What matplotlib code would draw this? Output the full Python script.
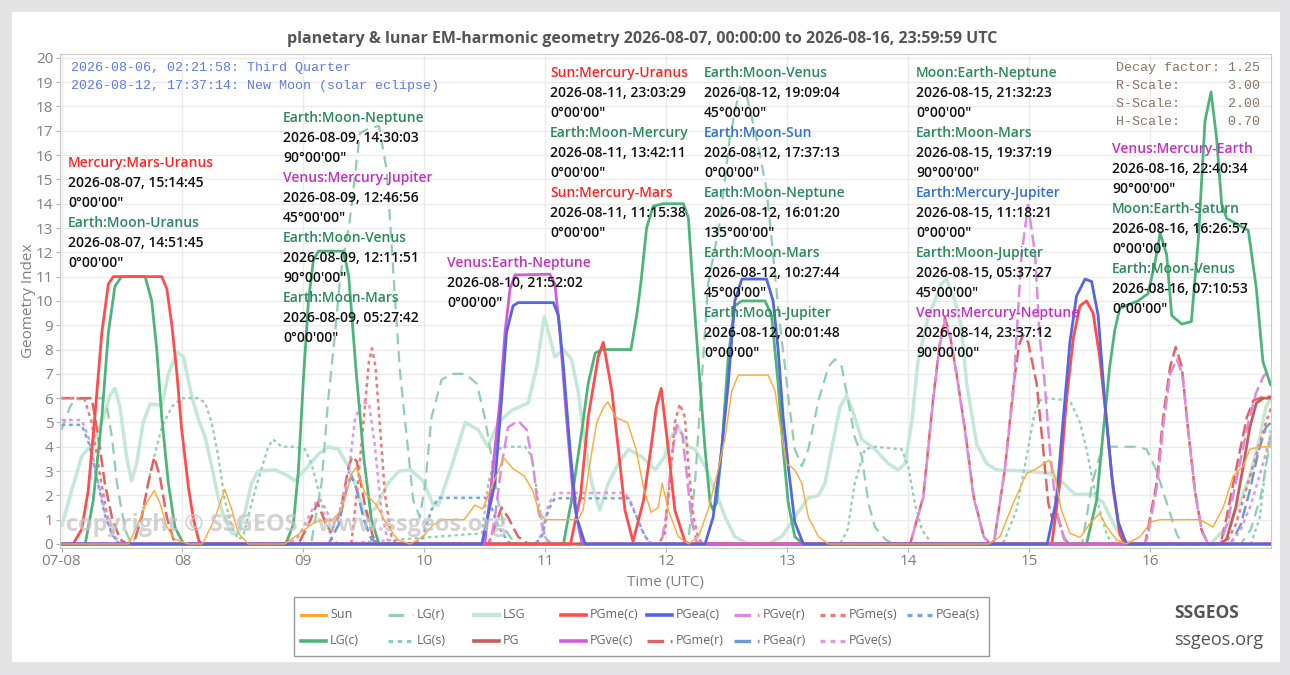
import matplotlib
matplotlib.use("Agg")
import matplotlib.pyplot as plt
from matplotlib.lines import Line2D
from matplotlib.patches import Rectangle

plt.rcParams['font.family'] = ['Open Sans', 'Noto Sans', 'DejaVu Sans']

W, H = 1290, 675

# ---- data: hours since 2026-08-07 00:00 UTC, geometry index ----
sun_h = [0, 13.3, 15.2, 16.9, 18.4, 19.5, 20.9, 22.5, 25.2, 28, 30.5, 32.4, 33.8, 35.1, 37.1, 44.3, 46.3, 48.3,
         50.3, 51.6, 53.6, 55.6, 57.6, 58.5, 60.2, 62.5, 64.5, 66.8, 69.2, 71.7, 73.8, 75.8, 79.9, 82, 83.6, 85,
         86.5, 87.7, 89.6, 91.8, 93.5, 94.8, 96, 102.5, 103.5, 104.6, 106.2, 107.5, 108.4, 110, 112.3, 114, 115.5,
         117, 118.4, 119.2, 120.4, 122.4, 124.4, 126.4, 128.3, 130.3, 131.7, 133, 134.3, 140.2, 141.6, 142.9, 143.9,
         145.5, 146.9, 148.2, 150.2, 152.2, 184, 186.2, 188.9, 191.5, 193.5, 194.8, 196, 197.1, 198.4, 200.1, 202.1,
         204.1, 206, 207.4, 209.4, 211.3, 214, 216.3, 218, 225.9, 228.5, 230.5, 232.5, 234.5, 235.8, 237.8, 240]
sun_v = [0, 0, 0.85, 1.7, 2.2, 1.7, 0.7, 0.2, 0, 0, 1.1, 2.25, 1.4, 0.44, 0, 0, 0.3, 0.6,
         0.9, 0.96, 0.96, 1.4, 2.9, 3.15, 2.1, 1.6, 0.8, 0.16, 0, 0.3, 0.8, 1.0, 1.0, 1.6, 1.45, 2.2,
         2.9, 3.55, 3.1, 2.8, 2.2, 1.3, 1.0, 1.0, 1.4, 3.0, 5.0, 5.6, 5.85, 5.2, 5.0, 3.9, 2.3,
         1.3, 1.5, 2.5, 1.4, 0.3, 0, 0.3, 1.4, 3.05, 4.4, 6.3, 6.95, 6.95, 6.3, 4.4, 3.3,
         3.05, 2.5, 1.1, 0.3, 0, 0, 0.3, 1.7, 2.9, 3.1, 3.3, 3.45, 2.8, 1.4, 0.44, 0.27,
         0.85, 1.26, 0.7, 0.16, 0, 0.3, 0.92, 1.0, 1.0, 0.7, 1.5, 2.8, 3.2, 3.9, 4.0, 4.0]

lgc_h = [0, 4.7, 6.3, 8.0, 9.3, 10.6, 11.9, 16.6, 17.9, 18.9, 19.9, 21.2, 22.5, 24.2, 44.5, 46, 47, 48, 49, 50, 51,
         56, 57, 58.5, 60, 61.5, 63, 99.6, 101.2, 103.2, 104.5, 105.9, 107.2, 113, 114.2, 115, 116.1, 117.4, 119.4,
         123.4, 124.4, 125, 125.7, 126.7, 127.7, 128.7, 129.3, 130, 131, 132.3, 133.6, 135, 139.6, 140.9, 142.2,
         143.2, 144.2, 145.5, 147.2, 203.4, 205.4, 206.7, 208, 209, 210, 213.6, 215.6, 217, 218, 219.3, 220.3,
         222.3, 224.2, 225.6, 226.9, 228.1, 229.2, 230.2, 231.2, 235.5, 237.1, 238.4, 240]
lgc_v = [0, 0, 1.8, 5.2, 8.7, 10.6, 11, 11, 10, 8.0, 5.2, 2.5, 0.7, 0, 0, 0.8, 3, 6.8, 10, 11.7, 12.05,
         12.05, 11, 7, 3.5, 1, 0, 0, 1.8, 4.6, 6.6, 7.85, 8.0, 8.0, 9.5, 10.8, 13, 13.9, 14,
         14, 13.4, 11.5, 9.4, 6.6, 3.9, 1.7, 1.4, 1.7, 3.9, 7.7, 9.8, 10.0, 10.0, 9.4, 6.6,
         3.9, 1.7, 0.3, 0, 0, 1.8, 4.6, 7.3, 8.8, 9.7, 10.0, 10.3, 11.6, 12.8, 11.9, 9.4,
         9.05, 9.15, 12.6, 17.4, 18.6, 16.7, 14, 13.4, 12.9, 10.5, 7.5, 6.5]

lgr_h = [0, 1.7, 2.7, 8, 9, 10, 11, 12, 12.9, 13.9, 48.5, 49.6, 51.6, 52.9, 54.3, 55.3, 57.2, 59.2, 61, 63, 64.5,
         65.2, 66.2, 67.2, 68.1, 69.8, 71.1, 72.2, 73.4, 75.4, 77.4, 80.1, 82.4, 84, 85.3, 86.7, 88, 90, 123,
         124.4, 125.7, 127, 128.3, 130.7, 132.6, 134.6, 135.9, 137.9, 139.9, 141.2, 142.5, 143.5, 144.3, 145.5,
         146.9, 148.2, 150.2, 152.2, 153.5, 154.8, 156.1, 157.4, 158.8, 160.1, 161.4, 163.4, 165, 202.5, 203.4,
         204.5, 206, 208, 213.3, 215.3, 217.3, 219.3, 221.3, 222.5, 234, 236, 238, 240]
lgr_v = [4.7, 5.65, 5.95, 6.0, 5.65, 4.4, 2.5, 1.3, 0.44, 0, 0, 0.1, 2.5, 5.9, 8.7, 11, 13.3, 16.9, 17.1, 17.2, 15.4,
         13.3, 10, 7, 5.2, 1.8, 1.1, 2.5, 5.2, 6.75, 7.0, 7.0, 6.6, 5.2, 3.6, 1.7, 0.6, 0, 0,
         0.2, 2.5, 6.6, 10.7, 13.3, 16.7, 18.8, 18.5, 16.7, 14.6, 11.9, 9.1, 7.4, 5.9, 3.9,
         3.2, 3.9, 5.9, 7.3, 7.6, 7.3, 5.9, 4.4, 3.6, 1.7, 0.7, 0.2, 0, 0, 1.1,
         2.5, 3.6, 4.0, 4.0, 3.9, 3.0, 1.7, 0.4, 0, 0, 0.6, 2.0, 4.4]

lgs_h = [0, 13.5, 14.3, 15.9, 17.9, 19.9, 21.9, 23.8, 27.2, 28.5, 29.8, 31.1, 32.4, 33.8, 35.1, 36, 38.4, 41, 42,
         43.7, 46.3, 48.3, 49.6, 51, 52.3, 53.6, 55, 83.4, 84.7, 86, 87.3, 92, 93.3, 94.6, 95.9, 97.2, 154.5, 156,
         157.4, 159.4, 161.4, 166.7, 168, 169.3, 170.7, 172.7, 186, 187, 189.5, 191.5, 193, 194.1, 195.5, 200.1,
         202.1, 203.4, 204.7, 206, 207.4, 208.5, 236, 237.8, 239, 240]
lgs_v = [0, 0, 0.1, 1.1, 3.2, 4.8, 5.65, 6.0, 6.0, 5.8, 5.0, 3.6, 1.8, 0.7, 0.2, 0.3, 2.2, 4.0, 4.3,
         4.0, 4.0, 3.9, 3.3, 2.2, 1.1, 0.2, 0, 0.44, 2.5, 3.6, 4.0, 4.0, 3.6, 1.8, 0.3, 0, 0, 0.6,
         2.5, 3.9, 4.0, 3.9, 3.2, 1.7, 0.6, 0, 0, 0.1, 1.4, 3.6, 5.3, 5.9, 6.0, 5.9,
         5.0, 3.9, 2.5, 1.4, 0.4, 0, 0, 1.1, 3.3, 4.8]

lsg_h = [0, 2, 4, 6, 8, 9.6, 10.6, 11.6, 12.9, 13.9, 14.9, 16.2, 17.6, 19.9, 21.2, 22.9, 24.2, 25.8, 27.2, 28.5,
         29.8, 31.1, 32.4, 33.8, 35.1, 36.4, 37.7, 39, 42.4, 45, 46.3, 48.3, 51, 52.9, 54.9, 56.9, 58.2, 60.2,
         62.2, 64.8, 67, 69.3, 71.7, 73.8, 74.8, 77.4, 80.1, 82.7, 84.6, 86.7, 89.3, 92.6, 94.3, 95.8, 96.9,
         97.9, 99.6, 101.2, 102.5, 103.9, 105.2, 106.8, 108.5, 110.5, 112.5, 115.1, 117.8, 119.7, 120.8, 122.4,
         124.4, 125.7, 127.7, 129.7, 131.7, 133.6, 136.3, 140.2, 142.9, 145.5, 148.2, 150.2, 151.5, 152.8, 154.5,
         155.8, 157.1, 158.8, 161.4, 164.1, 166, 167.4, 168.7, 170, 172, 174.6, 175.6, 177.3, 178.5, 179.6, 181.6,
         183.6, 185.5, 191.5, 196.1, 198.8, 201.1, 204.7, 206.7, 208.7, 210.7, 212.7, 228, 231.2, 233.8, 235.8,
         237.8, 239, 240]
lsg_v = [0.7, 2.2, 3.6, 4.1, 5.0, 6.1, 6.4, 5.65, 3.6, 2.6, 3.3, 5.0, 5.76, 5.7, 7.0, 7.9, 7.7, 6.1, 5.1, 4.4,
         3.2, 1.9, 1.0, 0.44, 0.44, 1.3, 2.5, 3.0, 3.05, 2.8, 2.6, 3.05, 3.7, 4.0, 3.9, 3.2, 2.5, 1.2,
         1.44, 2.5, 3.0, 3.05, 2.6, 1.6, 1.6, 3.2, 5.0, 4.7, 4.0, 5.0, 5.5, 5.8, 7.3, 9.35, 8.5,
         7.7, 8.0, 7.6, 6.3, 4.1, 2.5, 1.4, 2.5, 3.3, 3.9, 3.6, 3.05, 3.6, 4.4, 4.8,
         4.0, 3.9, 3.2, 2.2, 1.1, 0.3, 0, 0, 0.3, 1.1, 1.9, 2.0, 2.5, 3.9, 5.65,
         6.1, 5.4, 4.3, 3.9, 3.3, 3.05, 3.3, 5.0, 7.6, 9.35, 10.7, 10.9, 10.0, 9.0, 6.6, 4.1,
         3.3, 3.05, 3.0, 2.9, 2.5, 2.04, 2.04, 1.7, 0.85, 0.16, 0, 0, 0.7, 1.7, 2.8,
         4.4, 5.65, 6.0]

pg_h = [0, 230, 231.2, 233, 234.5, 235.8, 237.1, 238.5, 240]
pg_v = [0, 0, 0.2, 1.5, 3.2, 4.8, 5.8, 6.0, 6.0]

pgmec_h = [0, 2.3, 4.0, 5.3, 6.6, 8.0, 9.3, 10.3, 19.9, 20.9, 21.9, 22.9, 23.8, 25.2, 26.2, 27.3, 28, 101, 103,
           104.5, 106.5, 107.5, 109.2, 110.5, 111.8, 113.4, 115.5, 117, 118, 119, 120.4, 121.7, 123.7, 124.5,
           196.5, 198.1, 199.4, 200.8, 202.1, 203.4, 204.7, 206, 207.4, 208.7, 210, 211, 240]
pgmec_v = [0, 0, 0.6, 2.2, 5.2, 8.7, 10.7, 11, 11, 10.5, 9.0, 7.0, 4.8, 2.3, 1.0, 0.1, 0, 0, 2,
           5.2, 7.7, 8.3, 6.3, 3.9, 1.4, 0.1, 1.8, 4.0, 5.6, 6.4, 3.9, 1.4, 0.1, 0,
           0, 2.5, 5.9, 8.5, 9.8, 10, 9.5, 7.7, 5.0, 2.2, 0.4, 0, 0]

pgvec_h = [0, 84, 85.3, 87, 88, 89, 90, 96.9, 97.9, 98.9, 100.2, 101.6, 103.2, 104, 240]
pgvec_v = [0, 0, 2.5, 5.9, 8.7, 10.5, 11.07, 11.1, 10.7, 8.7, 5.2, 1.8, 0.1, 0, 0]

pgeac_h = [0, 83.4, 86, 87.3, 88.3, 89.6, 90.6, 97.6, 98.6, 99.6, 100.9, 102.2, 103.9, 127.7, 129.3, 131, 132.3,
           133.6, 135, 139.9, 141.2, 142.2, 143.2, 144.2, 145.5, 147.2, 195.6, 197.4, 198.8, 200.1, 201.4, 203.1,
           204.4, 205.7, 207, 208.4, 209.7, 211.3, 240]
pgeac_v = [0, 0, 2.5, 5.9, 8.7, 9.8, 9.93, 9.93, 9.4, 7.3, 3.9, 1.1, 0, 0, 1.1, 3.9, 6.6,
           10.0, 10.9, 10.9, 10, 8.0, 5.2, 3.2, 0.9, 0, 0, 1.8, 5.2, 8.3, 10.2, 10.9,
           10.8, 9.4, 5.9, 2.8, 0.9, 0, 0]

pgmer_h = [0, 6, 7.3, 8.6, 10, 11.6, 13, 14.6, 15.9, 17.2, 18.4, 19.5, 20.9, 22.2, 23.5, 47, 49, 50.8, 52.5, 53.5,
           55.3, 57, 57.7, 58.6, 60.2, 61.8, 63, 84.7, 86, 87.3, 88.6, 90.6, 92.6, 168.4, 171, 173, 174.3, 175.3,
           176.3, 177.6, 179.3, 181, 183, 184.3, 185.1, 187.2, 188.9, 190, 190.8, 191.8, 193.5, 194.8, 195.8,
           196.5, 197.2, 198, 199, 200, 215, 215.3, 217.3, 218.6, 220, 221.1, 222.3, 223.6, 224.9, 226.2, 227.5,
           230, 231.2, 233.2, 235.2, 236.5, 238.5, 240]
pgmer_v = [6.0, 6.0, 4.4, 2.5, 1.1, 0.2, 0, 0.2, 1.1, 2.5, 3.57, 2.8, 1.1, 0.2, 0, 0, 0.8, 1.7, 0.8, 0.5,
           1.3, 3.2, 3.6, 3.4, 1.6, 0.3, 0, 0, 0.7, 1.5, 1.1, 0.3, 0, 0, 1.95, 6.05, 8.3, 9.3,
           8.6, 7.0, 4.7, 1.95, 0.3, 0, 0.15, 3.1, 6.5, 8.2, 8.6, 8.3, 6.6, 3.9, 1.7,
           1.1, 1.4, 0.9, 0.2, 0, 0, 0.3, 2.5, 5.2, 7.3, 8.1, 7.3, 4.6, 2.2, 0.6, 0,
           0, 1.1, 3.2, 5.2, 5.9, 6.06, 6.06]

pgver_h = [0, 85, 86, 87.3, 88.6, 90.6, 92.3, 93.6, 94.6, 95.9, 97, 119, 120, 121, 122.1, 123.2, 124, 125, 126, 127,
           168.4, 171, 173, 174.3, 175.3, 176.3, 177.6, 179.3, 181, 183, 184.3, 185.1, 187.2, 188.9, 189.5, 190.5,
           191.8, 193.2, 194.1, 195.1, 196.1, 197.4, 198.8, 200, 215, 215.5, 217.4, 218.7, 220, 221.3, 222.4,
           223.7, 225, 226.3, 227.6, 230, 231.5, 233.5, 235.5, 237, 238.5, 240]
pgver_v = [0, 0, 1.1, 3.2, 4.8, 5.07, 4.7, 3.2, 1.4, 0.3, 0, 0, 1.2, 3.5, 4.9, 4.5, 3.0, 1.0, 0.1, 0,
           0, 1.9, 6.0, 8.2, 9.2, 8.5, 7.0, 4.6, 1.9, 0.3, 0, 0.15, 3.1, 6.3, 8.5, 11.9,
           13.95, 11.9, 8.5, 6.6, 3.9, 1.4, 0.3, 0, 0, 0.3, 2.4, 5.0, 7.0, 7.6, 7.0,
           4.4, 2.0, 0.5, 0, 0, 1.0, 3.0, 5.0, 6.2, 6.9, 7.2]

pgear_h = [0, 53, 55, 56.5, 57.5, 58.5, 60, 61.5, 63, 232, 234, 235.8, 237.5, 239, 240]
pgear_v = [0, 0, 0.8, 2.2, 2.8, 2.3, 1.0, 0.2, 0, 0, 0.8, 2.2, 3.8, 4.8, 5.0]

pgmes_h = [0, 4.5, 6, 7.5, 9, 10.5, 12, 57.5, 58.8, 60, 61, 61.6, 62.3, 63.2, 64.2, 65.5, 66.5, 118.5, 119.7,
           120.7, 121.7, 122.7, 123.7, 124.4, 125.4, 126.4, 127.5, 231, 233, 235, 237, 239, 240]
pgmes_v = [6.0, 6.0, 5.0, 3.0, 1.2, 0.3, 0, 0, 2.5, 5.2, 7.5, 8.05, 7.3, 4.8, 2.0, 0.3, 0, 0, 0.44,
           2.5, 5.0, 5.76, 5.2, 3.2, 1.1, 0.2, 0, 0, 0.8, 2.2, 3.6, 5.0, 5.6]

pgves_h = [0, 4, 5.5, 7, 8.6, 10, 11.5, 45, 47, 49, 50.8, 52.3, 53.8, 55, 56.9, 58.2, 59.5, 61, 62.2, 63.5, 64.7,
           66, 94, 95.3, 96.6, 97.9, 111.8, 113.1, 115.1, 116.4, 117.5, 232, 234, 236, 238, 240]
pgves_v = [5.1, 5.1, 4.3, 2.8, 1.3, 0.4, 0, 0, 0.3, 1.1, 1.85, 1.5, 0.8, 1.2, 2.75, 5.1, 5.8, 5.8, 4.0, 1.3, 0.16,
           0, 0, 0.4, 1.6, 2.1, 2.1, 1.67, 0.6, 0.1, 0, 0, 0.6, 1.6, 3.0, 4.5]

pgeas_h = [0, 4, 5.5, 7, 8.6, 10, 11.5, 70, 71.5, 73.4, 74.8, 84.7, 85.3, 86.7, 88.6, 89.5, 94, 95.3, 96.6, 97.9,
           112.5, 113.8, 115.8, 117.1, 240]
pgeas_v = [4.9, 4.9, 4.1, 2.7, 1.2, 0.4, 0, 0, 0.2, 1.4, 1.9, 1.9, 1.5, 0.7, 0.1, 0, 0, 0.3, 1.4, 1.88,
           1.88, 1.26, 0.3, 0, 0]

day_ticks = [0, 24, 48, 72, 96, 120, 144, 168, 192, 216]
day_labels = ['07-08', '08', '09', '10', '11', '12', '13', '14', '15', '16']

series = [
    ('Sun', sun_h, sun_v, dict(color='#ffa833', lw=1.0, zorder=3.5)),
    ('LG(c)', lgc_h, lgc_v, dict(color='#4fb47c', lw=2.0, zorder=3)),
    ('LG(r)', lgr_h, lgr_v, dict(color='#8fcfb0', lw=1.6, ls=(0, (5, 3)), zorder=2)),
    ('LG(s)', lgs_h, lgs_v, dict(color='#8fcfb0', lw=1.6, ls=(0, (1.5, 1.5)), zorder=2)),
    ('LSG', lsg_h, lsg_v, dict(color='#c4e8d6', lw=2.5, zorder=1.5)),
    ('PG', pg_h, pg_v, dict(color='#c65c5c', lw=2.0, zorder=3)),
    ('PGme(c)', pgmec_h, pgmec_v, dict(color='#ff4c4c', lw=2.0, zorder=3)),
    ('PGve(c)', pgvec_h, pgvec_v, dict(color='#d45ade', lw=2.0, zorder=3)),
    ('PGea(c)', pgeac_h, pgeac_v, dict(color='#5566e0', lw=2.0, zorder=3.2)),
    ('PGme(r)', pgmer_h, pgmer_v, dict(color='#e06464', lw=1.8, ls=(0, (5, 2)), zorder=2.5)),
    ('PGve(r)', pgver_h, pgver_v, dict(color='#dc8ce0', lw=1.8, ls=(0, (5, 2)), zorder=2.5)),
    ('PGea(r)', pgear_h, pgear_v, dict(color='#6c9ad8', lw=1.8, ls=(0, (5, 2)), zorder=2.5)),
    ('PGme(s)', pgmes_h, pgmes_v, dict(color='#ee7a7a', lw=1.8, ls=(0, (1.5, 1.5)), zorder=2.5)),
    ('PGve(s)', pgves_h, pgves_v, dict(color='#de9ade', lw=1.8, ls=(0, (1.5, 1.5)), zorder=2.5)),
    ('PGea(s)', pgeas_h, pgeas_v, dict(color='#78a6e0', lw=1.8, ls=(0, (1.5, 1.5)), zorder=2.5)),
]

fig = plt.figure(figsize=(W / 100, H / 100), dpi=100, facecolor='#e4e4e7')
fig.patches.append(Rectangle((12 / W, 1 - 662 / H), (1280 - 12) / W, (662 - 12) / H,
                             transform=fig.transFigure, facecolor='white', edgecolor='none', zorder=-5))

ax = fig.add_axes([59.5 / W, 1 - 548 / H, (1271 - 59.5) / W, (548 - 54) / H])
ax.set_facecolor('white')
for name, xs, ys, st in series:
    ax.plot(xs, ys, label=name, solid_capstyle='butt', **st)

ax.set_xlim(-0.4, 240)
ax.set_ylim(-0.165, 20.16)
ax.set_xticks(day_ticks)
ax.set_xticklabels(day_labels)
ax.set_yticks(range(0, 21))
ax.grid(True, color='#ebebeb', lw=1)
ax.set_axisbelow(True)
for s in ax.spines.values():
    s.set_color('#c8c8c8')
ax.tick_params(colors='#b0b0b0', labelcolor='#808080', labelsize=11, length=3, pad=1.5)
ax.set_xlabel('Time (UTC)', color='#808080', fontsize=11, labelpad=4)
ax.set_ylabel('Geometry Index', color='#808080', fontsize=11, labelpad=0)

fig.text(642 / W, 1 - 39 / H,
         'planetary & lunar EM-harmonic geometry 2026-08-07, 00:00:00 to 2026-08-16, 23:59:59 UTC',
         ha='center', va='center', fontsize=11.5, fontweight='bold', color='#555555')

# watermark
fig.text(66 / W, 1 - 525 / H, 'copyright \u00a9 SSGEOS - www.ssgeos.org', ha='left', va='center',
         fontsize=17, fontweight='bold', color='#c4c4c4', alpha=0.75, zorder=10)

# moon phases and parameters
fig.text(71 / W, 1 - 68 / H, '2026-08-06, 02:21:58: Third Quarter', family='Liberation Mono',
         fontsize=9.6, color='#5f7bea', va='center')
fig.text(71 / W, 1 - 86 / H, '2026-08-12, 17:37:14: New Moon (solar eclipse)', family='Liberation Mono',
         fontsize=9.6, color='#5f7bea', va='center')
params = ['Decay factor: 1.25', 'R-Scale:      3.00', 'S-Scale:      2.00', 'H-Scale:      0.70']
for i, p in enumerate(params):
    fig.text(1116 / W, 1 - (68 + 18 * i) / H, p, family='Liberation Mono', fontsize=9.6,
             color='#8a7563', va='center')

RED, GRN, BLU, MAG = '#ff2424', '#2a8a5a', '#2f70d2', '#c232c2'
events = [
    (68, 163, [('Mercury:Mars-Uranus', RED, '2026-08-07, 15:14:45', '0°00\'00"'),
               ('Earth:Moon-Uranus', GRN, '2026-08-07, 14:51:45', '0°00\'00"')]),
    (283, 118, [('Earth:Moon-Neptune', GRN, '2026-08-09, 14:30:03', '90°00\'00"'),
                ('Venus:Mercury-Jupiter', MAG, '2026-08-09, 12:46:56', '45°00\'00"'),
                ('Earth:Moon-Venus', GRN, '2026-08-09, 12:11:51', '90°00\'00"'),
                ('Earth:Moon-Mars', GRN, '2026-08-09, 05:27:42', '0°00\'00"')]),
    (447, 263, [('Venus:Earth-Neptune', MAG, '2026-08-10, 21:52:02', '0°00\'00"')]),
    (550, 73, [('Sun:Mercury-Uranus', RED, '2026-08-11, 23:03:29', '0°00\'00"'),
               ('Earth:Moon-Mercury', GRN, '2026-08-11, 13:42:11', '0°00\'00"'),
               ('Sun:Mercury-Mars', RED, '2026-08-11, 11:15:38', '0°00\'00"')]),
    (704, 73, [('Earth:Moon-Venus', GRN, '2026-08-12, 19:09:04', '45°00\'00"'),
               ('Earth:Moon-Sun', BLU, '2026-08-12, 17:37:13', '0°00\'00"'),
               ('Earth:Moon-Neptune', GRN, '2026-08-12, 16:01:20', '135°00\'00"'),
               ('Earth:Moon-Mars', GRN, '2026-08-12, 10:27:44', '45°00\'00"'),
               ('Earth:Moon-Jupiter', GRN, '2026-08-12, 00:01:48', '0°00\'00"')]),
    (916, 73, [('Moon:Earth-Neptune', GRN, '2026-08-15, 21:32:23', '0°00\'00"'),
               ('Earth:Moon-Mars', GRN, '2026-08-15, 19:37:19', '90°00\'00"'),
               ('Earth:Mercury-Jupiter', BLU, '2026-08-15, 11:18:21', '0°00\'00"'),
               ('Earth:Moon-Jupiter', GRN, '2026-08-15, 05:37:27', '45°00\'00"'),
               ('Venus:Mercury-Neptune', MAG, '2026-08-14, 23:37:12', '90°00\'00"')]),
    (1112, 149, [('Venus:Mercury-Earth', MAG, '2026-08-16, 22:40:34', '90°00\'00"'),
                 ('Moon:Earth-Saturn', GRN, '2026-08-16, 16:26:57', '0°00\'00"'),
                 ('Earth:Moon-Venus', GRN, '2026-08-16, 07:10:53', '0°00\'00"')]),
]
for x0, y0, items in events:
    y = y0
    for label, col, when, angle in items:
        for txt, c in ((label, col), (when, '#111111'), (angle, '#111111')):
            fig.text(x0 / W, 1 - y / H, txt, color=c, fontsize=10, fontweight='semibold',
                     ha='left', va='center', zorder=12)
            y += 20

# legend box, laid out on a fixed grid
fig.patches.append(Rectangle((294 / W, 1 - 656 / H), (989 - 294) / W, (656 - 597) / H,
                             transform=fig.transFigure, facecolor='white', edgecolor='#9a9a9a', lw=1))
for i, (name, xs, ys, st) in enumerate(series):
    col, row = divmod(i, 2)
    lx = 301 + 86.5 * col
    ly = 1 - (615 + 26 * row) / H
    fig.lines.append(Line2D([lx / W, (lx + 25) / W], [ly, ly], transform=fig.transFigure,
                            color=st['color'], lw=max(st['lw'], 1.6) + 0.6, ls=st.get('ls', '-')))
    fig.text((lx + 29) / W, ly, name, color='#666666', fontsize=9, va='center', ha='left')

fig.text(1174 / W, 1 - 613 / H, 'SSGEOS', fontsize=12.5, fontweight='bold', color='#555555', va='center')
fig.text(1174 / W, 1 - 640 / H, 'ssgeos.org', fontsize=13, color='#555555', va='center')

fig.savefig('out.png', dpi=100, facecolor=fig.get_facecolor())
